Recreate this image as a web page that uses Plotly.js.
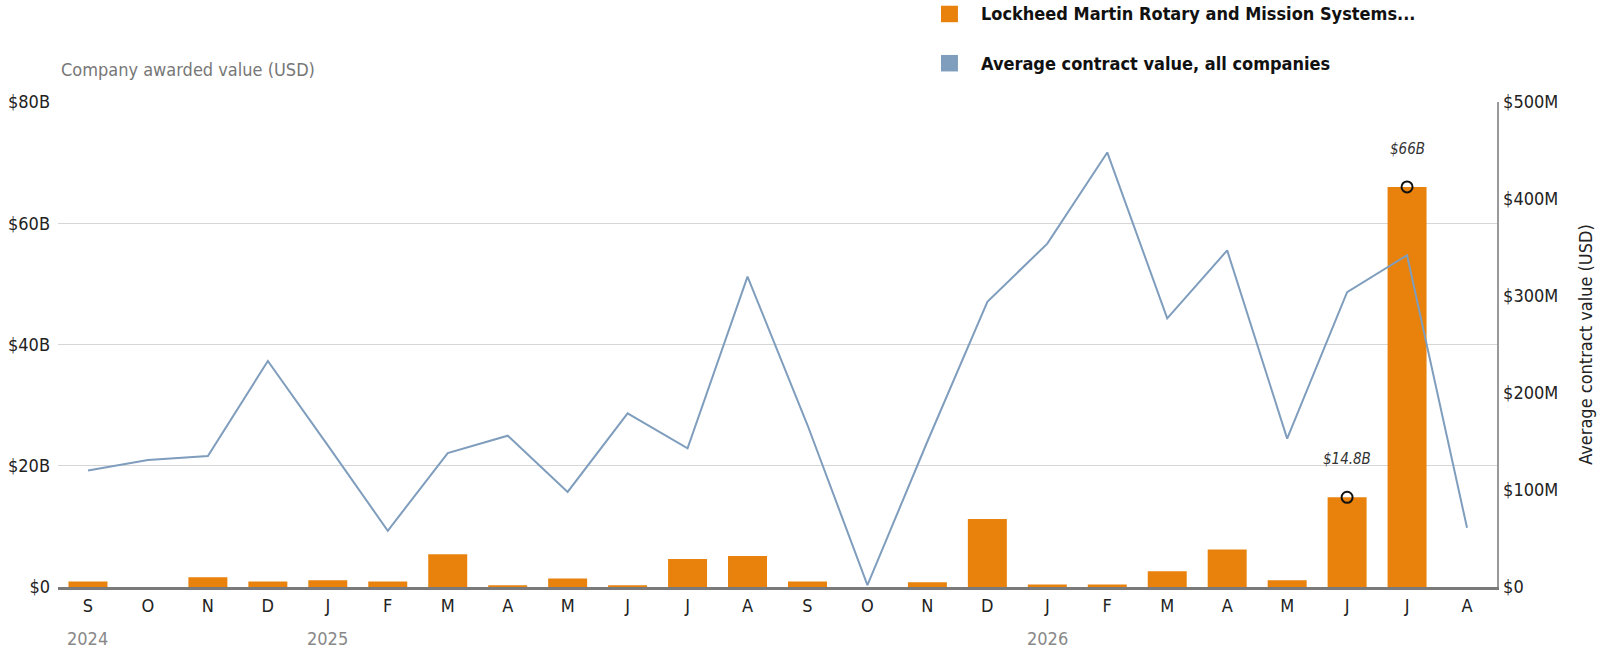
<!DOCTYPE html>
<html>
<head>
<meta charset="utf-8">
<script src="https://cdn.plot.ly/plotly-3.0.1.min.js"></script>
<style>
  html, body { margin: 0; padding: 0; background: #fff; }
  #chart { width: 1606px; height: 656px; }
</style>
</head>
<body>
<div id="chart"></div>
<script>
// =========================
// DATA
// =========================
const monthLabels = ["S","O","N","D","J","F","M","A","M","J","J","A",
                     "S","O","N","D","J","F","M","A","M","J","J","A"];
// company awarded value, billions USD
const companyValues = [0.9, 0, 1.6, 0.9, 1.1, 0.9, 5.4, 0.3, 1.4, 0.3, 4.6, 5.1,
                       0.9, 0, 0.8, 11.2, 0.4, 0.4, 2.6, 6.2, 1.1, 14.8, 66, 0];
// average contract value, all companies, millions USD
const avgValues = [120, 131, 135, 233, 146, 58, 138, 156, 98, 179, 143, 320,
                   167, 2, 150, 294, 354, 448, 277, 347, 153, 304, 342, 61];
const yearLabels = ["2024", "2025", "2026"];
const yearIdx = [0, 4, 16];
const calloutIdx = [21, 22];
const calloutText = ["$14.8B", "$66B"];
const leftTicks = [0, 20, 40, 60, 80];
const leftTickText = ["$0", "$20B", "$40B", "$60B", "$80B"];
const rightTicks = [0, 100, 200, 300, 400, 500];
const rightTickText = ["$0", "$100M", "$200M", "$300M", "$400M", "$500M"];

const ORANGE = "#e8820c";
const STEEL = "#7f9dbd";
const FONT = "'Liberation Sans Narrow', 'DejaVu Sans Condensed', Arial, sans-serif";

const xIdx = monthLabels.map((m, i) => i);

// =========================
// TRACES
// =========================
const barTrace = {
    x: xIdx,
    y: companyValues,
    type: "bar",
    marker: { color: ORANGE },
    width: 0.65,
    name: "Lockheed Martin Rotary and Mission Systems...",
    showlegend: false,
    hoverinfo: "skip"
};

const lineTrace = {
    x: xIdx,
    y: avgValues,
    type: "scatter",
    mode: "lines",
    yaxis: "y2",
    line: { color: STEEL, width: 2 },
    name: "Average contract value, all companies",
    showlegend: false,
    hoverinfo: "skip"
};

const calloutTrace = {
    x: calloutIdx,
    y: calloutIdx.map(i => companyValues[i]),
    type: "scatter",
    mode: "markers",
    marker: { symbol: "circle-open", size: 11, color: "#111", line: { width: 2, color: "#111" } },
    showlegend: false,
    hoverinfo: "skip"
};

// =========================
// ANNOTATIONS / LEGEND
// =========================
let annotations = [];

annotations.push({
    xref: "paper", yref: "paper", x: 0.001, y: 1.066,
    xanchor: "left", yanchor: "middle", showarrow: false,
    text: "Company awarded value (USD)",
    font: { family: FONT, size: 18, color: "#777" }
});

yearLabels.forEach((t, i) => {
    annotations.push({
        xref: "x", yref: "paper", x: yearIdx[i], y: -0.107,
        xanchor: "center", yanchor: "middle", showarrow: false,
        text: t,
        font: { family: FONT, size: 18, color: "#888" }
    });
});

calloutIdx.forEach((idx, i) => {
    annotations.push({
        x: idx, y: companyValues[idx], xref: "x", yref: "y",
        showarrow: false, yshift: 38,
        text: "<i>" + calloutText[i] + "</i>",
        font: { family: FONT, size: 15, color: "#333" }
    });
});

const legendItems = [
    { text: "Lockheed Martin Rotary and Mission Systems...", color: ORANGE, y: 1.1815 },
    { text: "Average contract value, all companies", color: STEEL, y: 1.080 }
];

let shapes = [];
legendItems.forEach(item => {
    shapes.push({
        type: "rect", xref: "paper", yref: "paper",
        x0: 0.6136, x1: 0.6254, y0: item.y - 0.017, y1: item.y + 0.017,
        fillcolor: item.color, line: { width: 0 }
    });
    annotations.push({
        xref: "paper", yref: "paper", x: 0.640, y: item.y,
        xanchor: "left", yanchor: "middle", showarrow: false,
        text: "<b>" + item.text + "</b>",
        font: { family: FONT, size: 18, color: "#111" }
    });
});

// =========================
// LAYOUT
// =========================
const layout = {
    width: 1606,
    height: 656,
    margin: { l: 58, r: 109, t: 102, b: 69 },
    paper_bgcolor: "#fff",
    plot_bgcolor: "#fff",
    font: { family: FONT, size: 18, color: "#222" },
    bargap: 0.35,
    xaxis: {
        range: [-0.5, 23.5],
        tickvals: xIdx,
        ticktext: monthLabels,
        showgrid: false,
        zeroline: false,
        showline: true,
        linecolor: "#7a7a7a",
        linewidth: 3,
        ticks: "",
        tickfont: { family: FONT, size: 18, color: "#222" },
        fixedrange: true
    },
    yaxis: {
        range: [0, 80],
        tickvals: leftTicks,
        ticktext: leftTickText,
        showgrid: true,
        gridcolor: "#d6d6d6",
        gridwidth: 1,
        zeroline: false,
        ticks: "",
        ticklabelstandoff: 7,
        tickfont: { family: FONT, size: 18, color: "#222" },
        fixedrange: true
    },
    yaxis2: {
        overlaying: "y",
        side: "right",
        range: [0, 500],
        tickvals: rightTicks,
        ticktext: rightTickText,
        showgrid: false,
        zeroline: false,
        showline: true,
        linecolor: "#999",
        linewidth: 1.5,
        ticks: "",
        ticklabelstandoff: 1,
        tickfont: { family: FONT, size: 18, color: "#222" },
        title: {
            text: "Average contract value (USD)",
            font: { family: FONT, size: 18, color: "#222" },
            standoff: 22
        },
        fixedrange: true
    },
    annotations: annotations,
    shapes: shapes
};

Plotly.newPlot("chart", [barTrace, lineTrace, calloutTrace], layout, { displayModeBar: false, staticPlot: true });
</script>
</body>
</html>
